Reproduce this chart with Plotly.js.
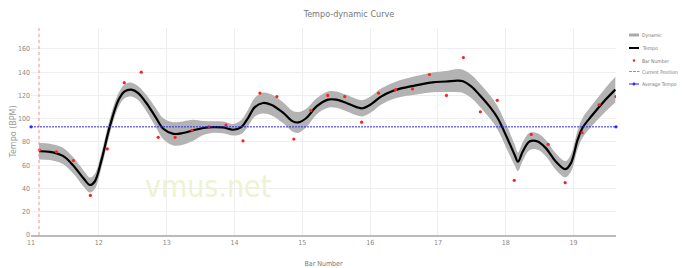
<!DOCTYPE html>
<html><head><meta charset="utf-8">
<script src="https://cdn.plot.ly/plotly-3.0.1.min.js"></script>
<style>html,body{margin:0;padding:0;background:#fff;}#chart{width:683px;height:268px;}</style>
</head><body><div id="chart"></div>
<script>
// ---- data ----
const beatBars = [11.125,11.375,11.625,11.875,12.125,12.375,12.625,12.875,13.125,13.375,13.625,13.875,
  14.125,14.375,14.625,14.875,15.125,15.375,15.625,15.875,16.125,16.375,16.625,16.875,
  17.125,17.375,17.625,17.875,18.125,18.375,18.625,18.875,19.125,19.375,19.625];
const beatTempo = [73,71.5,64,34,74,131,140,84,84,90,93,94.5,
  81,122,119,82.5,107,120,119,97,122,125,125.6,138,
  120,152.6,106,115.8,47,86.5,78,45,88,112,119];

const curveBars = [11.118,11.28,11.47,11.62,11.77,11.87,11.94,12.04,12.16,12.29,12.38,12.48,12.58,12.70,12.83,12.95,
  13.10,13.24,13.39,13.54,13.68,13.83,13.98,14.10,14.20,14.30,14.42,14.54,14.72,14.86,14.94,15.06,15.21,15.38,15.50,
  15.65,15.80,15.89,16.02,16.16,16.34,16.53,16.73,16.92,17.12,17.29,17.37,17.49,17.61,17.76,17.88,18.01,18.13,18.18,
  18.25,18.35,18.47,18.59,18.74,18.88,18.96,19.06,19.13,19.28,19.45,19.615];
const curveTempo = [72,71.5,68,60,49,43,46,64.6,93,116,123.5,125,122,113.5,102,91.4,
  87,87.7,90,92,92.8,92.5,90.5,92.8,100.6,110,113.5,112,105,97.7,96.8,100.6,110.6,116.4,116.4,
  113.5,110,109,112.7,119,124,127,129.3,131.3,132,132.8,132.2,127.8,120.7,110.6,100.6,84.7,69,63,
  71.8,80.4,80.4,74.7,63,56.6,61.8,82,92,103.4,115,125];
const dynamicWidth = [7,7,7,7,7,6.5,6.5,6.5,6.5,6,6,6,6,7,8,9,
  10,10,9,6,5,5,5,6,7,8,9,9,9,9,9,8,7,7,7,
  7,7,7,7,7,7,7.5,8,8.5,9,10,10,10,10,10,10,10,9,8,
  8,7.5,7,7,7,7,7.5,8,8.5,9,10,11];

const currentPosition = 11.118;
const averageTempo = 93;
const xTickVals = [11,12,13,14,15,16,17,18,19];
const yTickVals = [0,20,40,60,80,100,120,140,160];
const legendNames = ['Dynamic','Tempo','Bar Number','Current Position','Average Tempo'];

// ---- layout geometry ----
const W = 683, H = 268, M = {l:31, r:67, t:28, b:33};
const PW = W - M.l - M.r, PH = H - M.t - M.b;
const pxX = p => (p - M.l) / PW;
const pxY = p => (H - M.b - p) / PH;
const FONT = '"DejaVu Sans Condensed", "Liberation Sans Narrow", sans-serif';
const BLUE = '#2828ff', PINK = '#ff8c8c';

const upper = curveTempo.map((v,i)=>v + dynamicWidth[i]);
const lower = curveTempo.map((v,i)=>v - dynamicWidth[i]);
const xMin = xTickVals[0], xMax = beatBars[beatBars.length-1];

const traces = [
  {x: curveBars, y: lower, mode:'lines', line:{width:0, shape:'spline', color:'#b0b0b0'}, hoverinfo:'skip', showlegend:false},
  {x: curveBars, y: upper, mode:'lines', line:{width:0, shape:'spline', color:'#b0b0b0'}, fill:'tonexty', fillcolor:'#b3b3b3', name:legendNames[0], showlegend:false},
  {x: curveBars, y: curveTempo, mode:'lines', line:{width:2.2, shape:'spline', color:'#000'}, name:legendNames[1], showlegend:false},
  {x: beatBars, y: beatTempo, mode:'markers', marker:{size:3.2, color:'#ff2020'}, name:legendNames[2], showlegend:false},
  {x: [currentPosition,currentPosition], y:[0,178], mode:'lines', line:{width:1, dash:'3px,3px', color:PINK}, name:legendNames[3], showlegend:false},
  {x: [xMin, xMax], y:[averageTempo, averageTempo], mode:'lines+markers', line:{width:1, dash:'2px,1px', color:BLUE}, marker:{size:3.2, color:BLUE}, name:legendNames[4], showlegend:false, cliponaxis:false}
];

// custom compact legend
const legY = [35, 48, 60.5, 71.5, 84];
const shapes = [
  {type:'line', xref:'paper', yref:'paper', x0:pxX(629), x1:pxX(639), y0:pxY(legY[0]), y1:pxY(legY[0]), line:{color:'#aaaaaa', width:3}},
  {type:'line', xref:'paper', yref:'paper', x0:pxX(629), x1:pxX(639), y0:pxY(legY[1]), y1:pxY(legY[1]), line:{color:'#000', width:2}},
  {type:'circle', xref:'paper', yref:'paper', x0:pxX(632.8), x1:pxX(635.2), y0:pxY(legY[2]+1.2), y1:pxY(legY[2]-1.2), fillcolor:'#ff2020', line:{width:0}},
  {type:'line', xref:'paper', yref:'paper', x0:pxX(629), x1:pxX(632), y0:pxY(legY[3]), y1:pxY(legY[3]), line:{color:'#ff6a6a', width:1}},
  {type:'line', xref:'paper', yref:'paper', x0:pxX(633), x1:pxX(636), y0:pxY(legY[3]), y1:pxY(legY[3]), line:{color:'#ff6a6a', width:1}},
  {type:'line', xref:'paper', yref:'paper', x0:pxX(637), x1:pxX(639.5), y0:pxY(legY[3]), y1:pxY(legY[3]), line:{color:'#ff6a6a', width:1}},
  {type:'line', xref:'paper', yref:'paper', x0:pxX(629), x1:pxX(639), y0:pxY(legY[4]), y1:pxY(legY[4]), line:{color:BLUE, width:1}},
  {type:'circle', xref:'paper', yref:'paper', x0:pxX(632.6), x1:pxX(635.4), y0:pxY(legY[4]+1.4), y1:pxY(legY[4]-1.4), fillcolor:BLUE, line:{width:0}}
];
const annotations = legendNames.map((n,i)=>({
  text:n, xref:'paper', yref:'paper', x:pxX(640), y:pxY(legY[i]), xanchor:'left', yanchor:'middle',
  showarrow:false, font:{family:FONT, size:5, color:'#777'}
}));
annotations.push({text:'vmus.net', xref:'paper', yref:'paper', x:pxX(208), y:pxY(186), xanchor:'center', yanchor:'middle',
  showarrow:false, font:{family:FONT, size:30, color:'#edf3d2'}});

const layout = {
  width: W, height: H, margin: M,
  paper_bgcolor:'#fff', plot_bgcolor:'#fff',
  font:{family:FONT, size:7, color:'#888'},
  title:{text:'Tempo-dynamic Curve', font:{family:FONT, size:9, color:'#777'}, x:349/W, xref:'container', xanchor:'center', y:1-14/H, yref:'container', yanchor:'middle'},
  xaxis:{range:[xMin, xMax], tickvals:xTickVals, ticktext:xTickVals.map(String), showgrid:true, gridcolor:'#eeeeee', gridwidth:1,
    showline:true, linecolor:'#bbbbbb', linewidth:2, zeroline:false, ticks:'', tickfont:{size:7, color:'#888'},
    title:{text:'Bar Number', font:{size:7, color:'#777'}, standoff:20}},
  yaxis:{range:[0,178], tickvals:yTickVals, showgrid:true, gridcolor:'#eeeeee', gridwidth:1, zeroline:false, showline:false,
    ticks:'', tickfont:{size:7, color:'#888'},
    title:{text:'Tempo (BPM)', font:{family:'DejaVu Sans, sans-serif', size:8, color:'#999'}, standoff:0}},
  showlegend:false, shapes, annotations, hovermode:false
};
Plotly.newPlot('chart', traces, layout, {staticPlot:true, displayModeBar:false});
</script></body></html>
